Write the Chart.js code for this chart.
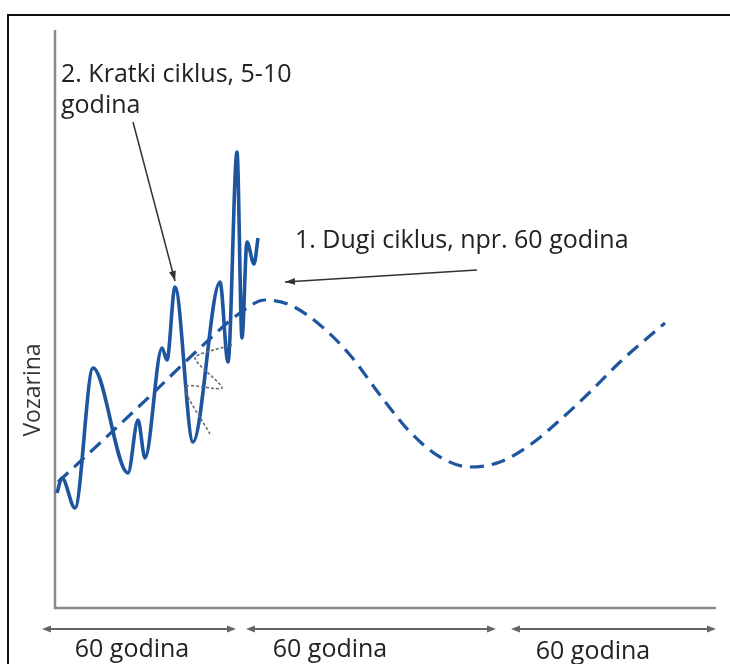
<!DOCTYPE html>
<html>
<head>
<meta charset="utf-8">
<script src="https://cdn.jsdelivr.net/npm/chart.js@4.4.0/dist/chart.umd.min.js"></script>
<style>
    html, body { margin: 0; padding: 0; background: #fff; }
    canvas { display: block; }
</style>
</head>
<body>
<canvas id="chart" width="730" height="664"></canvas>
<script>
// short cycle (solid line), x = time units, y = vozarina
const shortCycleX = [2, 7, 20, 38, 73, 83, 90, 107, 112, 120, 138, 165, 173, 182, 187, 192, 199, 203];
const shortCycleY = [115, 130, 100, 240, 135, 188, 150, 260, 248, 321, 166, 326, 246, 456, 270, 366, 344, 370];

// long cycle (dashed line)
const longCycleX = [3, 45, 95, 145, 185, 210, 235, 265, 295, 325, 355, 385, 415, 445, 475, 505, 535, 565, 590, 610];
const longCycleY = [126, 165, 212, 260, 295, 308, 303, 283, 253, 213, 176, 151, 141, 146, 163, 188, 216, 246, 268, 285];

// small grey sketch of the short cycle wrapped round the trend
const sketchX = [155, 130, 167, 140, 169, 177];
const sketchY = [174, 221, 220, 250, 261, 263];

const yAxisTitle = "Vozarina";
const shortLabel = ["2. Kratki ciklus, 5-10", "godina"];
const longLabel = "1. Dugi ciklus, npr. 60 godina";
const periodLabels = ["60 godina", "60 godina", "60 godina"];

const BLUE = "#1d559f";
const FONT = '"Open Sans", "Noto Sans", sans-serif';

const toPoints = (xs, ys) => xs.map((x, i) => ({ x: x, y: ys[i] }));

function arrowHead(ctx, x1, y1, x2, y2, len, wid) {
    const a = Math.atan2(y2 - y1, x2 - x1);
    ctx.beginPath();
    ctx.moveTo(x2, y2);
    ctx.lineTo(x2 - len * Math.cos(a) + wid * Math.sin(a), y2 - len * Math.sin(a) - wid * Math.cos(a));
    ctx.lineTo(x2 - len * Math.cos(a) - wid * Math.sin(a), y2 - len * Math.sin(a) + wid * Math.cos(a));
    ctx.closePath();
    ctx.fill();
}

const decorPlugin = {
    id: "decor",
    beforeDraw(chart) {
        const ctx = chart.ctx;
        ctx.save();
        ctx.fillStyle = "#fff";
        ctx.fillRect(0, 0, chart.width, chart.height);
        // outer frame
        ctx.strokeStyle = "#111";
        ctx.lineWidth = 2;
        ctx.beginPath();
        ctx.moveTo(8, chart.height);
        ctx.lineTo(8, 15);
        ctx.lineTo(chart.width, 15);
        ctx.stroke();
        ctx.restore();
    },
    beforeDatasetsDraw(chart) {
        const ctx = chart.ctx;
        const a = chart.chartArea;
        ctx.save();
        ctx.strokeStyle = "#8a8a8a";
        ctx.lineWidth = 2.5;
        ctx.beginPath();
        ctx.moveTo(a.left, a.top);
        ctx.lineTo(a.left, a.bottom);
        ctx.lineTo(a.right, a.bottom);
        ctx.stroke();
        ctx.restore();
    },
    afterDraw(chart) {
        const ctx = chart.ctx;
        const xs = chart.scales.x, ys = chart.scales.y;
        ctx.save();

        // y axis title
        ctx.fillStyle = "#333";
        ctx.font = "23px " + FONT;
        ctx.textAlign = "center";
        ctx.textBaseline = "middle";
        ctx.translate(33, 390);
        ctx.rotate(-Math.PI / 2);
        ctx.fillText(yAxisTitle, 0, 0);
        ctx.setTransform(1, 0, 0, 1, 0, 0);

        // annotations
        ctx.textAlign = "left";
        ctx.fillStyle = "#222";
        ctx.font = "25px " + FONT;
        ctx.fillText(shortLabel[0], 61, 75);
        ctx.fillText(shortLabel[1], 61, 106);
        ctx.fillText(longLabel, 295, 241);

        ctx.strokeStyle = "#333";
        ctx.fillStyle = "#333";
        ctx.lineWidth = 1.5;
        // arrow to short cycle peak
        const sx = xs.getPixelForValue(shortCycleX[9]), sy = ys.getPixelForValue(shortCycleY[9]) - 6;
        ctx.beginPath();
        ctx.moveTo(133, 122);
        ctx.lineTo(sx, sy);
        ctx.stroke();
        arrowHead(ctx, 133, 122, sx, sy, 10, 3.5);
        // arrow to long cycle peak
        const lx = xs.getPixelForValue(longCycleX[5]) + 20, ly = ys.getPixelForValue(longCycleY[5]) - 18;
        ctx.beginPath();
        ctx.moveTo(477, 270);
        ctx.lineTo(lx, ly);
        ctx.stroke();
        arrowHead(ctx, 477, 270, lx, ly, 10, 3.5);

        // period arrows under the x axis
        const spans = [[42, 236], [246, 496], [511, 716]];
        const textX = [132, 330, 593];
        const textY = [650, 650, 652];
        ctx.strokeStyle = "#666";
        ctx.fillStyle = "#666";
        ctx.lineWidth = 2;
        spans.forEach(([x1, x2]) => {
            ctx.beginPath();
            ctx.moveTo(x1 + 4, 629);
            ctx.lineTo(x2 - 4, 629);
            ctx.stroke();
            arrowHead(ctx, x2, 629, x1, 629, 9, 3.5);
            arrowHead(ctx, x1, 629, x2, 629, 9, 3.5);
        });
        ctx.fillStyle = "#222";
        ctx.font = "25px " + FONT;
        ctx.textAlign = "center";
        periodLabels.forEach((t, i) => ctx.fillText(t, textX[i], textY[i]));
        ctx.restore();
    }
};

new Chart(document.getElementById("chart"), {
    type: "scatter",
    data: {
        datasets: [
            {
                label: "sketch",
                data: toPoints(sketchX, sketchY),
                showLine: true,
                borderColor: "#6e6e6e",
                borderWidth: 1.6,
                borderDash: [3, 2],
                tension: 0.25,
                pointRadius: 0,
            },
            {
                label: "long",
                data: toPoints(longCycleX, longCycleY),
                showLine: true,
                borderColor: BLUE,
                borderWidth: 3.2,
                borderDash: [14, 8],
                cubicInterpolationMode: "monotone",
                pointRadius: 0,
            },
            {
                label: "short",
                data: toPoints(shortCycleX, shortCycleY),
                showLine: true,
                borderColor: BLUE,
                borderWidth: 3.6,
                cubicInterpolationMode: "monotone",
                pointRadius: 0,
            },
        ],
    },
    options: {
        responsive: false,
        animation: false,
        layout: { padding: { left: 55, right: 14, top: 30, bottom: 56 } },
        plugins: { legend: { display: false }, tooltip: { enabled: false } },
        scales: {
            x: { type: "linear", min: 0, max: 661, display: false },
            y: { type: "linear", min: 0, max: 578, display: false },
        },
    },
    plugins: [decorPlugin],
});
</script>
</body>
</html>
